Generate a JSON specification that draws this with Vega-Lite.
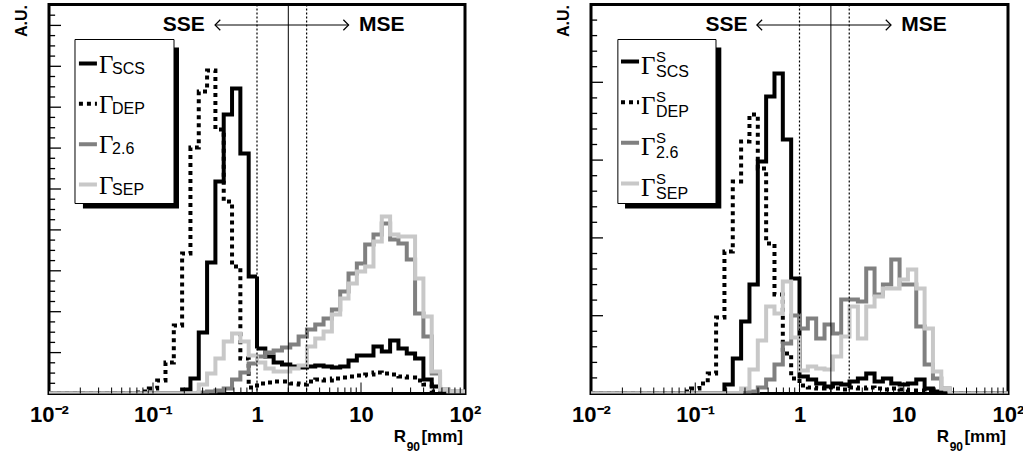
{
 "$schema": "https://vega.github.io/schema/vega-lite/v6.json",
 "padding": {"left": 11, "top": 1.5, "right": 0, "bottom": 0},
 "bounds": "flush",
 "spacing": 126,
 "config": {"view": {"stroke": "#000000", "strokeWidth": 3}, "font": "Liberation Sans"},
 "datasets": {
  "one": [{}],
  "L": [
   {"x":0.01,"SCS":0,"DEP":0,"G26":0,"SEP":0},
   {"x":0.012023,"SCS":0,"DEP":0,"G26":0,"SEP":0},
   {"x":0.014454,"SCS":0,"DEP":0,"G26":0,"SEP":0},
   {"x":0.017378,"SCS":0,"DEP":0,"G26":0,"SEP":0},
   {"x":0.020893,"SCS":0,"DEP":0,"G26":0,"SEP":0},
   {"x":0.025119,"SCS":0,"DEP":0,"G26":0,"SEP":0},
   {"x":0.0302,"SCS":0,"DEP":0,"G26":0,"SEP":0},
   {"x":0.036308,"SCS":0,"DEP":0,"G26":0,"SEP":0},
   {"x":0.043652,"SCS":0,"DEP":0,"G26":0,"SEP":0},
   {"x":0.052481,"SCS":0,"DEP":0,"G26":0,"SEP":0},
   {"x":0.063096,"SCS":0,"DEP":1,"G26":0,"SEP":0},
   {"x":0.075858,"SCS":0,"DEP":2,"G26":0,"SEP":0},
   {"x":0.091201,"SCS":0,"DEP":5,"G26":0,"SEP":0},
   {"x":0.10965,"SCS":0,"DEP":13,"G26":0,"SEP":0},
   {"x":0.13183,"SCS":0,"DEP":31,"G26":0,"SEP":0},
   {"x":0.15849,"SCS":0,"DEP":68,"G26":0,"SEP":0},
   {"x":0.19055,"SCS":4,"DEP":140,"G26":0,"SEP":0},
   {"x":0.22909,"SCS":15,"DEP":246,"G26":0,"SEP":0},
   {"x":0.27542,"SCS":61,"DEP":302,"G26":1,"SEP":9},
   {"x":0.33113,"SCS":131,"DEP":323,"G26":2,"SEP":20},
   {"x":0.39811,"SCS":212,"DEP":264,"G26":3,"SEP":35},
   {"x":0.47863,"SCS":279,"DEP":192,"G26":5,"SEP":52},
   {"x":0.57544,"SCS":305,"DEP":127,"G26":14,"SEP":60},
   {"x":0.69183,"SCS":240,"DEP":35,"G26":21,"SEP":52},
   {"x":0.83176,"SCS":117,"DEP":6,"G26":30,"SEP":38},
   {"x":1,"SCS":45,"DEP":10,"G26":37,"SEP":31},
   {"x":1.2023,"SCS":37,"DEP":11,"G26":41,"SEP":25},
   {"x":1.4454,"SCS":31,"DEP":12,"G26":43,"SEP":22},
   {"x":1.7378,"SCS":29,"DEP":12,"G26":46,"SEP":22},
   {"x":2.0893,"SCS":27,"DEP":10,"G26":49,"SEP":25},
   {"x":2.5119,"SCS":26,"DEP":9,"G26":57,"SEP":28},
   {"x":3.02,"SCS":27,"DEP":12,"G26":64,"SEP":47},
   {"x":3.6308,"SCS":28,"DEP":14,"G26":69,"SEP":55},
   {"x":4.3652,"SCS":27,"DEP":13,"G26":75,"SEP":62},
   {"x":5.2481,"SCS":26,"DEP":15,"G26":84,"SEP":79},
   {"x":6.3096,"SCS":27,"DEP":16,"G26":102,"SEP":95},
   {"x":7.5858,"SCS":33,"DEP":17,"G26":120,"SEP":110},
   {"x":9.1201,"SCS":38,"DEP":18,"G26":130,"SEP":122},
   {"x":10.965,"SCS":38,"DEP":19,"G26":149,"SEP":127},
   {"x":13.183,"SCS":47,"DEP":21,"G26":159,"SEP":152},
   {"x":15.849,"SCS":42,"DEP":20,"G26":170,"SEP":177},
   {"x":19.055,"SCS":53,"DEP":19,"G26":154,"SEP":159},
   {"x":22.909,"SCS":45,"DEP":17,"G26":150,"SEP":157},
   {"x":27.542,"SCS":40,"DEP":16,"G26":134,"SEP":157},
   {"x":33.113,"SCS":35,"DEP":13,"G26":80,"SEP":115},
   {"x":39.811,"SCS":14,"DEP":9,"G26":57,"SEP":77},
   {"x":47.863,"SCS":7,"DEP":2,"G26":20,"SEP":22},
   {"x":57.544,"SCS":0,"DEP":0,"G26":4,"SEP":4},
   {"x":69.183,"SCS":0,"DEP":0,"G26":2,"SEP":2},
   {"x":83.176,"SCS":0,"DEP":0,"G26":2,"SEP":2},
   {"x":100,"SCS":0,"DEP":0,"G26":2,"SEP":2}
  ],
  "R": [
   {"x":0.01,"SCS":0,"DEP":0,"G26":0,"SEP":0},
   {"x":0.012023,"SCS":0,"DEP":0,"G26":0,"SEP":0},
   {"x":0.014454,"SCS":0,"DEP":0,"G26":0,"SEP":0},
   {"x":0.017378,"SCS":0,"DEP":0,"G26":0,"SEP":0},
   {"x":0.020893,"SCS":0,"DEP":0,"G26":0,"SEP":0},
   {"x":0.025119,"SCS":0,"DEP":0,"G26":0,"SEP":0},
   {"x":0.0302,"SCS":0,"DEP":0,"G26":0,"SEP":0},
   {"x":0.036308,"SCS":0,"DEP":0,"G26":0,"SEP":0},
   {"x":0.043652,"SCS":0,"DEP":0,"G26":0,"SEP":0},
   {"x":0.052481,"SCS":0,"DEP":0,"G26":0,"SEP":0},
   {"x":0.063096,"SCS":0,"DEP":0,"G26":0,"SEP":0},
   {"x":0.075858,"SCS":0,"DEP":2,"G26":0,"SEP":0},
   {"x":0.091201,"SCS":0,"DEP":5,"G26":0,"SEP":0},
   {"x":0.10965,"SCS":0,"DEP":10,"G26":0,"SEP":0},
   {"x":0.13183,"SCS":0,"DEP":20,"G26":0,"SEP":0},
   {"x":0.15849,"SCS":0,"DEP":76,"G26":0,"SEP":0},
   {"x":0.19055,"SCS":9,"DEP":142,"G26":0,"SEP":0},
   {"x":0.22909,"SCS":35,"DEP":212,"G26":0,"SEP":0},
   {"x":0.27542,"SCS":72,"DEP":252,"G26":1,"SEP":5},
   {"x":0.33113,"SCS":109,"DEP":279,"G26":2,"SEP":24},
   {"x":0.39811,"SCS":232,"DEP":225,"G26":6,"SEP":53},
   {"x":0.47863,"SCS":297,"DEP":150,"G26":14,"SEP":87},
   {"x":0.57544,"SCS":320,"DEP":99,"G26":29,"SEP":80},
   {"x":0.69183,"SCS":254,"DEP":40,"G26":50,"SEP":112},
   {"x":0.83176,"SCS":115,"DEP":15,"G26":78,"SEP":56},
   {"x":1,"SCS":17,"DEP":8,"G26":65,"SEP":23},
   {"x":1.2023,"SCS":14,"DEP":6,"G26":75,"SEP":27},
   {"x":1.4454,"SCS":10,"DEP":5,"G26":55,"SEP":25},
   {"x":1.7378,"SCS":7,"DEP":6,"G26":69,"SEP":24},
   {"x":2.0893,"SCS":10,"DEP":5,"G26":60,"SEP":37},
   {"x":2.5119,"SCS":9,"DEP":4,"G26":94,"SEP":57},
   {"x":3.02,"SCS":12,"DEP":6,"G26":94,"SEP":87},
   {"x":3.6308,"SCS":15,"DEP":5,"G26":92,"SEP":55},
   {"x":4.3652,"SCS":20,"DEP":6,"G26":125,"SEP":87},
   {"x":5.2481,"SCS":12,"DEP":5,"G26":99,"SEP":97},
   {"x":6.3096,"SCS":15,"DEP":4,"G26":109,"SEP":105},
   {"x":7.5858,"SCS":10,"DEP":5,"G26":134,"SEP":105},
   {"x":9.1201,"SCS":9,"DEP":4,"G26":109,"SEP":114},
   {"x":10.965,"SCS":10,"DEP":3,"G26":109,"SEP":124},
   {"x":13.183,"SCS":14,"DEP":3,"G26":67,"SEP":105},
   {"x":15.849,"SCS":5,"DEP":2,"G26":29,"SEP":65},
   {"x":19.055,"SCS":2,"DEP":1,"G26":15,"SEP":22},
   {"x":22.909,"SCS":0,"DEP":0,"G26":5,"SEP":5},
   {"x":27.542,"SCS":0,"DEP":0,"G26":0,"SEP":0},
   {"x":33.113,"SCS":0,"DEP":0,"G26":0,"SEP":0},
   {"x":39.811,"SCS":0,"DEP":0,"G26":0,"SEP":0},
   {"x":47.863,"SCS":0,"DEP":0,"G26":0,"SEP":0},
   {"x":57.544,"SCS":0,"DEP":0,"G26":0,"SEP":0},
   {"x":69.183,"SCS":0,"DEP":0,"G26":0,"SEP":0},
   {"x":83.176,"SCS":0,"DEP":0,"G26":0,"SEP":0},
   {"x":100,"SCS":0,"DEP":0,"G26":0,"SEP":0}
  ],
  "xminor": [{"v":0.02},{"v":0.03},{"v":0.04},{"v":0.05},{"v":0.06},{"v":0.07},{"v":0.08},{"v":0.09},{"v":0.2},{"v":0.3},{"v":0.4},{"v":0.5},{"v":0.6},{"v":0.7},{"v":0.8},{"v":0.9},{"v":2},{"v":3},{"v":4},{"v":5},{"v":6},{"v":7},{"v":8},{"v":9},{"v":20},{"v":30},{"v":40},{"v":50},{"v":60},{"v":70},{"v":80},{"v":90}],
  "xmajor": [{"v":0.1},{"v":1},{"v":10}],
  "yLmaj": [{"v":40.9},{"v":81.8},{"v":122.7},{"v":163.6},{"v":204.5},{"v":245.4},{"v":286.3},{"v":327.2},{"v":368.1}],
  "yLmin": [{"v":10.2},{"v":20.4},{"v":30.7},{"v":51.1},{"v":61.3},{"v":71.6},{"v":92.0},{"v":102.2},{"v":112.5},{"v":132.9},{"v":143.1},{"v":153.4},{"v":173.8},{"v":184.0},{"v":194.3},{"v":214.7},{"v":224.9},{"v":235.2},{"v":255.6},{"v":265.8},{"v":276.1},{"v":296.5},{"v":306.7},{"v":317.0},{"v":337.4},{"v":347.6},{"v":357.9},{"v":378.3}],
  "yRmaj": [{"v":77.8},{"v":155.6},{"v":233.4},{"v":311.2}],
  "yRmin": [{"v":15.6},{"v":31.1},{"v":46.7},{"v":62.2},{"v":93.4},{"v":108.9},{"v":124.5},{"v":140.0},{"v":171.2},{"v":186.7},{"v":202.3},{"v":217.8},{"v":249.0},{"v":264.5},{"v":280.1},{"v":295.6},{"v":326.8},{"v":342.3},{"v":357.9},{"v":373.4}],
  "leg": [{"s":"SCS","sub":"SCS"},{"s":"DEP","sub":"DEP"},{"s":"G26","sub":"2.6"},{"s":"SEP","sub":"SEP"}]
 },
 "hconcat": [
  {
   "width": 416, "height": 389,
   "layer": [
    {
     "layer": [
      {"data": {"name": "L"}, "transform": [{"fold": ["SCS", "DEP", "G26", "SEP"], "as": ["s", "h"]}],
       "mark": {"type": "line", "interpolate": "step-after", "strokeWidth": 4, "clip": true},
       "encoding": {
        "x": {"field": "x", "type": "quantitative", "scale": {"type": "log", "domain": [0.01, 100], "nice": false}, "axis": {"values": [0.01, 0.1, 1, 10, 100], "labelExpr": "datum.value < 0.05 ? '10⁻²' : datum.value < 0.5 ? '10⁻¹' : datum.value < 5 ? '1' : datum.value < 50 ? '10' : '10²'", "ticks": false, "domain": false, "grid": false, "labelFlush": false, "labelOverlap": false, "labelFont": "Liberation Sans", "labelFontWeight": "bold", "labelFontSize": 22, "labelColor": "#000000", "labelPadding": 11, "title": null}},
        "y": {"field": "h", "type": "quantitative", "scale": {"domain": [0, 389], "nice": false, "zero": false}, "axis": {"title": "A.U.", "labels": false, "ticks": false, "domain": false, "grid": false, "titleAnchor": "end", "titleFont": "Liberation Sans", "titleFontSize": 16, "titleFontWeight": "bold", "titleColor": "#000000", "titlePadding": 20}},
        "color": {"field": "s", "type": "nominal", "scale": {"domain": ["SCS", "DEP", "G26", "SEP"], "range": ["#000000", "#000000", "#808080", "#c8c8c8"]}, "legend": null},
        "strokeDash": {"field": "s", "type": "nominal", "scale": {"domain": ["SCS", "DEP", "G26", "SEP"], "range": [[1, 0], [4, 4], [1, 0], [1, 0]]}, "legend": null}
       }},
      {"data": {"name": "xminor"}, "mark": {"type": "rule", "color": "#000000", "strokeWidth": 1},
       "encoding": {"x": {"field": "v", "type": "quantitative"},
                    "y": {"datum": 0, "type": "quantitative"}, "y2": {"datum": 6}}},
      {"data": {"name": "xmajor"}, "mark": {"type": "rule", "color": "#000000", "strokeWidth": 1},
       "encoding": {"x": {"field": "v", "type": "quantitative"},
                    "y": {"datum": 0, "type": "quantitative"}, "y2": {"datum": 11}}},
      {"data": {"name": "yLmaj"}, "mark": {"type": "rule", "color": "#000000", "strokeWidth": 1.3},
       "encoding": {"y": {"field": "v", "type": "quantitative"},
                    "x": {"datum": 0.01, "type": "quantitative"}, "x2": {"datum": 0.01304}}},
      {"data": {"name": "yLmin"}, "mark": {"type": "rule", "color": "#000000", "strokeWidth": 1.3},
       "encoding": {"y": {"field": "v", "type": "quantitative"},
                    "x": {"datum": 0.01, "type": "quantitative"}, "x2": {"datum": 0.01145}}},
      {"data": {"name": "one"}, "mark": {"type": "rule", "color": "#000000", "strokeWidth": 1.2, "strokeDash": [2, 2]},
       "encoding": {"x": {"datum": 1, "type": "quantitative"}}},
      {"data": {"name": "one"}, "mark": {"type": "rule", "color": "#000000", "strokeWidth": 1.2, "strokeDash": [2, 2]},
       "encoding": {"x": {"datum": 3, "type": "quantitative"}}},
      {"data": {"name": "one"}, "mark": {"type": "rule", "color": "#000000", "strokeWidth": 1},
       "encoding": {"x": {"datum": 2, "type": "quantitative"}}},
      {"data": {"name": "one"}, "mark": {"type": "rule", "color": "#000000", "strokeWidth": 1},
       "encoding": {"x": {"datum": 0.395, "type": "quantitative"}, "x2": {"datum": 7.6},
                    "y": {"datum": 368.5, "type": "quantitative"}}},
      {"data": {"name": "one"}, "mark": {"type": "point", "shape": "M1,-1L0,0L1,1", "filled": false, "stroke": "#000000", "strokeWidth": 1.2, "size": 110, "opacity": 1},
       "encoding": {"x": {"datum": 0.395, "type": "quantitative"}, "y": {"datum": 368.5, "type": "quantitative"}}},
      {"data": {"name": "one"}, "mark": {"type": "point", "shape": "M-1,-1L0,0L-1,1", "filled": false, "stroke": "#000000", "strokeWidth": 1.2, "size": 110, "opacity": 1},
       "encoding": {"x": {"datum": 7.6, "type": "quantitative"}, "y": {"datum": 368.5, "type": "quantitative"}}},
      {"data": {"name": "one"}, "mark": {"type": "text", "text": "SSE", "fontSize": 21, "fontWeight": "bold", "align": "center", "baseline": "middle", "font": "Liberation Sans"},
       "encoding": {"x": {"datum": 0.198, "type": "quantitative"}, "y": {"datum": 368.5, "type": "quantitative"}}},
      {"data": {"name": "one"}, "mark": {"type": "text", "text": "MSE", "fontSize": 21, "fontWeight": "bold", "align": "center", "baseline": "middle", "font": "Liberation Sans"},
       "encoding": {"x": {"datum": 15.8, "type": "quantitative"}, "y": {"datum": 368.5, "type": "quantitative"}}},
      {"data": {"name": "one"}, "mark": {"type": "text", "text": "[mm]", "fontSize": 17, "fontWeight": "bold", "align": "right", "baseline": "alphabetic", "dx": -2, "font": "Liberation Sans"},
       "encoding": {"x": {"datum": 100, "type": "quantitative"}, "y": {"datum": -48, "type": "quantitative"}}},
      {"data": {"name": "one"}, "mark": {"type": "text", "text": "90", "fontSize": 12, "fontWeight": "bold", "align": "right", "baseline": "alphabetic", "dx": -45, "font": "Liberation Sans"},
       "encoding": {"x": {"datum": 100, "type": "quantitative"}, "y": {"datum": -57, "type": "quantitative"}}},
      {"data": {"name": "one"}, "mark": {"type": "text", "text": "R", "fontSize": 17, "fontWeight": "bold", "align": "right", "baseline": "alphabetic", "dx": -59, "font": "Liberation Sans"},
       "encoding": {"x": {"datum": 100, "type": "quantitative"}, "y": {"datum": -48, "type": "quantitative"}}},
      {"data": {"name": "one"}, "mark": {"type": "rect", "color": "#000000"},
       "encoding": {"x": {"datum": 0.0212, "type": "quantitative"}, "x2": {"datum": 0.1778},
                    "y": {"datum": 185, "type": "quantitative"}, "y2": {"datum": 346}}},
      {"data": {"name": "one"}, "mark": {"type": "rect", "fill": "#ffffff", "stroke": "#000000", "strokeWidth": 1},
       "encoding": {"x": {"datum": 0.01778, "type": "quantitative"}, "x2": {"datum": 0.1592},
                    "y": {"datum": 190, "type": "quantitative"}, "y2": {"datum": 354}}}
     ]
    },
    {
     "data": {"name": "leg"},
     "layer": [
      {"mark": {"type": "rule", "strokeWidth": 4},
       "encoding": {"x": {"datum": 0.0194, "type": "quantitative"}, "x2": {"datum": 0.0289},
                    "y": {"field": "s", "type": "nominal", "scale": {"type": "point", "domain": ["SCS", "DEP", "G26", "SEP"], "range": [59, 180], "padding": 0}, "axis": null},
                    "color": {"field": "s", "type": "nominal", "legend": null},
                    "strokeDash": {"field": "s", "type": "nominal", "legend": null}}},
      {"mark": {"type": "text", "text": "Γ", "font": "Liberation Serif", "fontSize": 25, "align": "left", "baseline": "alphabetic", "dy": 9},
       "encoding": {"x": {"datum": 0.0303, "type": "quantitative"},
                    "y": {"field": "s", "type": "nominal", "axis": null}}},
      {"mark": {"type": "text", "font": "Liberation Sans", "fontSize": 16, "align": "left", "baseline": "alphabetic", "dx": 13, "dy": 10},
       "encoding": {"x": {"datum": 0.0303, "type": "quantitative"},
                    "y": {"field": "s", "type": "nominal", "axis": null},
                    "text": {"field": "sub"}}}
     ]
    }
   ],
   "resolve": {"scale": {"y": "independent"}}
  },
  {
   "width": 417, "height": 389,
   "layer": [
    {
     "layer": [
      {"data": {"name": "R"}, "transform": [{"fold": ["SCS", "DEP", "G26", "SEP"], "as": ["s", "h"]}],
       "mark": {"type": "line", "interpolate": "step-after", "strokeWidth": 4, "clip": true},
       "encoding": {
        "x": {"field": "x", "type": "quantitative", "scale": {"type": "log", "domain": [0.01, 100], "nice": false}, "axis": {"values": [0.01, 0.1, 1, 10, 100], "labelExpr": "datum.value < 0.05 ? '10⁻²' : datum.value < 0.5 ? '10⁻¹' : datum.value < 5 ? '1' : datum.value < 50 ? '10' : '10²'", "ticks": false, "domain": false, "grid": false, "labelFlush": false, "labelOverlap": false, "labelFont": "Liberation Sans", "labelFontWeight": "bold", "labelFontSize": 22, "labelColor": "#000000", "labelPadding": 11, "title": null}},
        "y": {"field": "h", "type": "quantitative", "scale": {"domain": [0, 389], "nice": false, "zero": false}, "axis": {"title": "A.U.", "labels": false, "ticks": false, "domain": false, "grid": false, "titleAnchor": "end", "titleFont": "Liberation Sans", "titleFontSize": 16, "titleFontWeight": "bold", "titleColor": "#000000", "titlePadding": 20}},
        "color": {"field": "s", "type": "nominal", "scale": {"domain": ["SCS", "DEP", "G26", "SEP"], "range": ["#000000", "#000000", "#808080", "#c8c8c8"]}, "legend": null},
        "strokeDash": {"field": "s", "type": "nominal", "scale": {"domain": ["SCS", "DEP", "G26", "SEP"], "range": [[1, 0], [4, 4], [1, 0], [1, 0]]}, "legend": null}
       }},
      {"data": {"name": "xminor"}, "mark": {"type": "rule", "color": "#000000", "strokeWidth": 1},
       "encoding": {"x": {"field": "v", "type": "quantitative"},
                    "y": {"datum": 0, "type": "quantitative"}, "y2": {"datum": 6}}},
      {"data": {"name": "xmajor"}, "mark": {"type": "rule", "color": "#000000", "strokeWidth": 1},
       "encoding": {"x": {"field": "v", "type": "quantitative"},
                    "y": {"datum": 0, "type": "quantitative"}, "y2": {"datum": 11}}},
      {"data": {"name": "yRmaj"}, "mark": {"type": "rule", "color": "#000000", "strokeWidth": 1.3},
       "encoding": {"y": {"field": "v", "type": "quantitative"},
                    "x": {"datum": 0.01, "type": "quantitative"}, "x2": {"datum": 0.01304}}},
      {"data": {"name": "yRmin"}, "mark": {"type": "rule", "color": "#000000", "strokeWidth": 1.3},
       "encoding": {"y": {"field": "v", "type": "quantitative"},
                    "x": {"datum": 0.01, "type": "quantitative"}, "x2": {"datum": 0.01145}}},
      {"data": {"name": "one"}, "mark": {"type": "rule", "color": "#000000", "strokeWidth": 1.2, "strokeDash": [2, 2]},
       "encoding": {"x": {"datum": 1, "type": "quantitative"}}},
      {"data": {"name": "one"}, "mark": {"type": "rule", "color": "#000000", "strokeWidth": 1.2, "strokeDash": [2, 2]},
       "encoding": {"x": {"datum": 3, "type": "quantitative"}}},
      {"data": {"name": "one"}, "mark": {"type": "rule", "color": "#000000", "strokeWidth": 1},
       "encoding": {"x": {"datum": 2, "type": "quantitative"}}},
      {"data": {"name": "one"}, "mark": {"type": "rule", "color": "#000000", "strokeWidth": 1},
       "encoding": {"x": {"datum": 0.39, "type": "quantitative"}, "x2": {"datum": 7.55},
                    "y": {"datum": 368.5, "type": "quantitative"}}},
      {"data": {"name": "one"}, "mark": {"type": "point", "shape": "M1,-1L0,0L1,1", "filled": false, "stroke": "#000000", "strokeWidth": 1.2, "size": 110, "opacity": 1},
       "encoding": {"x": {"datum": 0.39, "type": "quantitative"}, "y": {"datum": 368.5, "type": "quantitative"}}},
      {"data": {"name": "one"}, "mark": {"type": "point", "shape": "M-1,-1L0,0L-1,1", "filled": false, "stroke": "#000000", "strokeWidth": 1.2, "size": 110, "opacity": 1},
       "encoding": {"x": {"datum": 7.55, "type": "quantitative"}, "y": {"datum": 368.5, "type": "quantitative"}}},
      {"data": {"name": "one"}, "mark": {"type": "text", "text": "SSE", "fontSize": 21, "fontWeight": "bold", "align": "center", "baseline": "middle", "font": "Liberation Sans"},
       "encoding": {"x": {"datum": 0.1995, "type": "quantitative"}, "y": {"datum": 368.5, "type": "quantitative"}}},
      {"data": {"name": "one"}, "mark": {"type": "text", "text": "MSE", "fontSize": 21, "fontWeight": "bold", "align": "center", "baseline": "middle", "font": "Liberation Sans"},
       "encoding": {"x": {"datum": 15.6, "type": "quantitative"}, "y": {"datum": 368.5, "type": "quantitative"}}},
      {"data": {"name": "one"}, "mark": {"type": "text", "text": "[mm]", "fontSize": 17, "fontWeight": "bold", "align": "right", "baseline": "alphabetic", "dx": -2, "font": "Liberation Sans"},
       "encoding": {"x": {"datum": 100, "type": "quantitative"}, "y": {"datum": -48, "type": "quantitative"}}},
      {"data": {"name": "one"}, "mark": {"type": "text", "text": "90", "fontSize": 12, "fontWeight": "bold", "align": "right", "baseline": "alphabetic", "dx": -45, "font": "Liberation Sans"},
       "encoding": {"x": {"datum": 100, "type": "quantitative"}, "y": {"datum": -57, "type": "quantitative"}}},
      {"data": {"name": "one"}, "mark": {"type": "text", "text": "R", "fontSize": 17, "fontWeight": "bold", "align": "right", "baseline": "alphabetic", "dx": -59, "font": "Liberation Sans"},
       "encoding": {"x": {"datum": 100, "type": "quantitative"}, "y": {"datum": -48, "type": "quantitative"}}},
      {"data": {"name": "one"}, "mark": {"type": "rect", "color": "#000000"},
       "encoding": {"x": {"datum": 0.0212, "type": "quantitative"}, "x2": {"datum": 0.1778},
                    "y": {"datum": 185, "type": "quantitative"}, "y2": {"datum": 346}}},
      {"data": {"name": "one"}, "mark": {"type": "rect", "fill": "#ffffff", "stroke": "#000000", "strokeWidth": 1},
       "encoding": {"x": {"datum": 0.0181, "type": "quantitative"}, "x2": {"datum": 0.1581},
                    "y": {"datum": 190, "type": "quantitative"}, "y2": {"datum": 354}}}
     ]
    },
    {
     "data": {"name": "leg"},
     "layer": [
      {"mark": {"type": "rule", "strokeWidth": 4},
       "encoding": {"x": {"datum": 0.0194, "type": "quantitative"}, "x2": {"datum": 0.0289},
                    "y": {"field": "s", "type": "nominal", "scale": {"type": "point", "domain": ["SCS", "DEP", "G26", "SEP"], "range": [57, 179], "padding": 0}, "axis": null},
                    "color": {"field": "s", "type": "nominal", "legend": null},
                    "strokeDash": {"field": "s", "type": "nominal", "legend": null}}},
      {"mark": {"type": "text", "text": "Γ", "font": "Liberation Serif", "fontSize": 25, "align": "left", "baseline": "alphabetic", "dy": 12},
       "encoding": {"x": {"datum": 0.0302, "type": "quantitative"},
                    "y": {"field": "s", "type": "nominal", "axis": null}}},
      {"mark": {"type": "text", "text": "S", "font": "Liberation Sans", "fontSize": 15, "align": "left", "baseline": "alphabetic", "dx": 15, "dy": 0},
       "encoding": {"x": {"datum": 0.0302, "type": "quantitative"},
                    "y": {"field": "s", "type": "nominal", "axis": null}}},
      {"mark": {"type": "text", "font": "Liberation Sans", "fontSize": 16, "align": "left", "baseline": "alphabetic", "dx": 15, "dy": 15},
       "encoding": {"x": {"datum": 0.0302, "type": "quantitative"},
                    "y": {"field": "s", "type": "nominal", "axis": null},
                    "text": {"field": "sub"}}}
     ]
    }
   ],
   "resolve": {"scale": {"y": "independent"}}
  }
 ]
}
